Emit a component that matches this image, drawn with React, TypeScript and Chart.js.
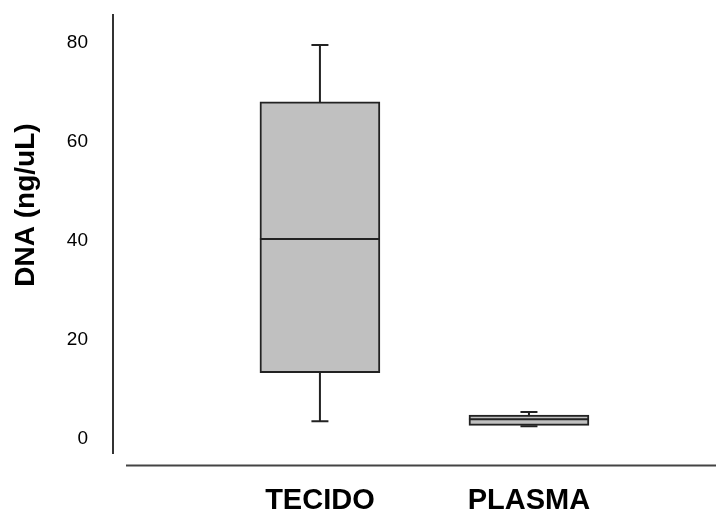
import React, { useEffect, useRef } from "react";
import { Chart, registerables } from "chart.js";

Chart.register(...registerables);

const categories = ["TECIDO", "PLASMA"];
const minValues = [3.6, 2.55];
const q1Values = [13.4, 2.75];
const medianValues = [40.4, 4.0];
const q3Values = [68.1, 4.85];
const maxValues = [79.6, 5.45];
const yTicks = [0, 20, 40, 60, 80];
const yTitle = "DNA (ng/uL)";

const BOX_WIDTH = 120;
const CAP_WIDTH = 17;

const boxPlugin = {
  id: "boxWhiskers",
  afterDatasetsDraw(chart: any) {
    const ctx = chart.ctx;
    const xs = chart.scales.x;
    const ys = chart.scales.y;
    ctx.save();
    ctx.strokeStyle = "#222222";
    ctx.lineWidth = 2;
    categories.forEach((_, i) => {
      const cx = xs.getPixelForValue(i + 1);
      const yMin = ys.getPixelForValue(minValues[i]);
      const yQ1 = ys.getPixelForValue(q1Values[i]);
      const yMed = ys.getPixelForValue(medianValues[i]);
      const yQ3 = ys.getPixelForValue(q3Values[i]);
      const yMax = ys.getPixelForValue(maxValues[i]);
      ctx.beginPath();
      ctx.moveTo(cx, yQ3);
      ctx.lineTo(cx, yMax);
      ctx.moveTo(cx - CAP_WIDTH / 2, yMax);
      ctx.lineTo(cx + CAP_WIDTH / 2, yMax);
      ctx.moveTo(cx, yQ1);
      ctx.lineTo(cx, yMin);
      ctx.moveTo(cx - CAP_WIDTH / 2, yMin);
      ctx.lineTo(cx + CAP_WIDTH / 2, yMin);
      ctx.moveTo(cx - BOX_WIDTH / 2, yMed);
      ctx.lineTo(cx + BOX_WIDTH / 2, yMed);
      ctx.stroke();
    });
    ctx.restore();
  },
  afterDraw(chart: any) {
    const ctx = chart.ctx;
    const area = chart.chartArea;
    ctx.save();
    // detached x axis line
    ctx.strokeStyle = "#444444";
    ctx.lineWidth = 2;
    ctx.beginPath();
    ctx.moveTo(area.left + 13, area.bottom + 12.5);
    ctx.lineTo(chart.width, area.bottom + 12.5);
    ctx.stroke();
    // y axis title
    ctx.fillStyle = "#000000";
    ctx.font = "bold 28px 'Liberation Sans', Arial, sans-serif";
    ctx.textAlign = "center";
    ctx.textBaseline = "middle";
    ctx.translate(26, 205);
    ctx.rotate(-Math.PI / 2);
    ctx.fillText(yTitle, 0, 0);
    ctx.restore();
  },
};

export default function App() {
  const ref = useRef<HTMLCanvasElement>(null);

  useEffect(() => {
    if (!ref.current) return;
    const chart = new Chart(ref.current, {
      type: "bar",
      data: {
        datasets: [
          {
            data: categories.map((_, i) => ({ x: i + 1, y: [q1Values[i], q3Values[i]] })) as any,
            backgroundColor: "#c0c0c0",
            borderColor: "#222222",
            borderWidth: 2,
            borderSkipped: false,
            barThickness: BOX_WIDTH,
          },
        ],
      },
      options: {
        responsive: false,
        animation: false,
        layout: { padding: { top: 15, right: 10, left: 0, bottom: 0 } },
        plugins: {
          legend: { display: false },
          tooltip: { enabled: false },
        },
        scales: {
          x: {
            type: "linear",
            offset: false,
            min: 0.01,
            max: 2.847,
            grid: { display: false, drawTicks: false, offset: false },
            border: { display: false },
            afterBuildTicks: (scale: any) => {
              scale.ticks = categories.map((_, i) => ({ value: i + 1 }));
            },
            afterFit: (scale: any) => {
              scale.height = 66;
              scale.paddingLeft = 0;
              scale.paddingRight = 0;
              scale.paddingTop = 0;
              scale.paddingBottom = 0;
            },
            ticks: {
              color: "#000000",
              padding: 31,
              maxRotation: 0,
              autoSkip: false,
              font: { family: "'Liberation Sans', Arial, sans-serif", size: 29, weight: "bold" },
              callback: (v: any) => categories[Math.round(Number(v)) - 1] ?? "",
            },
          },
          y: {
            min: -2.83,
            max: 85.66,
            grid: { display: false, drawTicks: false },
            border: { display: true, color: "#333333", width: 2 },
            afterBuildTicks: (scale: any) => {
              scale.ticks = yTicks.map((v) => ({ value: v }));
            },
            afterFit: (scale: any) => {
              scale.width = 113;
              scale.paddingTop = 0;
              scale.paddingBottom = 0;
              scale.paddingLeft = 0;
              scale.paddingRight = 0;
            },
            ticks: {
              color: "#000000",
              padding: 25,
              font: { family: "'Liberation Sans', Arial, sans-serif", size: 19 },
            },
          },
        },
      },
      plugins: [boxPlugin],
    });
    return () => chart.destroy();
  }, []);

  return (
    <div style={{ position: "fixed", left: 0, top: 0, width: 716, height: 519, background: "#ffffff" }}>
      <canvas ref={ref} width={716} height={519} />
    </div>
  );
}
